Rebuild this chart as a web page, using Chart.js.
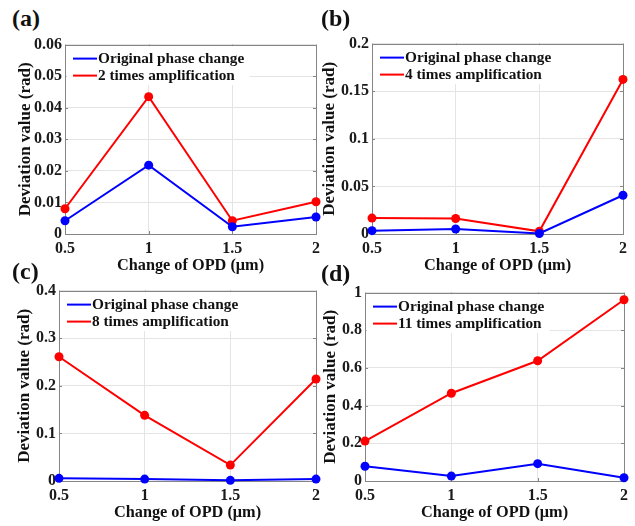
<!DOCTYPE html>
<html>
<head>
<meta charset="utf-8">
<title>Deviation value vs. change of OPD</title>
<script src="https://cdn.jsdelivr.net/npm/chart.js@4.4.1/dist/chart.umd.min.js"></script>
<style>
  body { margin: 0; background: #fff; }
  #figure { position: relative; width: 635px; height: 526px; overflow: hidden; background: #fff; }
  #figure canvas { position: absolute; }
  .panel-tag {
    position: absolute;
    font: bold 24px "Liberation Serif", "Times New Roman", serif;
    line-height: 1;
    color: #111;
  }
</style>
</head>
<body>
<div id="figure">
  <canvas id="chartA"></canvas>
  <canvas id="chartB"></canvas>
  <canvas id="chartC"></canvas>
  <canvas id="chartD"></canvas>
  <div class="panel-tag" style="left:12px;top:6px">(a)</div>
  <div class="panel-tag" style="left:321px;top:6px">(b)</div>
  <div class="panel-tag" style="left:12px;top:259px">(c)</div>
  <div class="panel-tag" style="left:321px;top:261px">(d)</div>
</div>

<script>
// 光路差の変化 (μm)
const opd = [0.5, 1, 1.5, 2];

// 各パネルの偏差 (rad)
const originalA = [0.0042, 0.0218, 0.0023, 0.0054];
const amplifiedA = [0.0080, 0.0435, 0.0042, 0.0102];
const originalB = [0.0035, 0.0052, 0.0005, 0.0407];
const amplifiedB = [0.0167, 0.0163, 0.0028, 0.1624];
const originalC = [0.0056, 0.0040, 0.0014, 0.0040];
const amplifiedC = [0.261, 0.138, 0.0334, 0.2143];
const originalD = [0.078, 0.026, 0.092, 0.017];
const amplifiedD = [0.212, 0.466, 0.638, 0.962];

// 凡例ラベル
const originalLabel = 'Original phase change';
const amplifiedLabels = ['2 times amplification', '4 times amplification', '8 times amplification', '11 times amplification'];

// y軸の上限と目盛間隔
const yMaxes = [0.06, 0.2, 0.4, 1];
const ySteps = [0.01, 0.05, 0.1, 0.2];

const xTitle = 'Change of OPD (\u03bcm)';
const yTitle = 'Deviation value (rad)';

const SERIF = '"Liberation Serif", "Times New Roman", serif';
const AXIS_W = 58;   // y軸の幅
const AXIS_H = 44;   // x軸の高さ
const PAD_TOP = 12;
const PAD_RIGHT = 10;

// プロット領域の配置 (ページ座標)
const panels = [
  { id: 'chartA', l: 65,  t: 44,  r: 316, b: 234, titleX: 26,  original: originalA, amplified: amplifiedA },
  { id: 'chartB', l: 372, t: 43,  r: 623, b: 234, titleX: 330, original: originalB, amplified: amplifiedB },
  { id: 'chartC', l: 59,  t: 290, r: 316, b: 481, titleX: 25,  original: originalC, amplified: amplifiedC },
  { id: 'chartD', l: 365, t: 292, r: 624, b: 481, titleX: 331, original: originalD, amplified: amplifiedD }
];

function toPoints(values) {
  return opd.map((x, i) => ({ x: x, y: values[i] }));
}

// 0.20 → 0.2, 2.0 → 2 のように末尾のゼロを落とす
function plainTick(value) {
  return String(+Number(value).toFixed(4));
}

// 枠線・内向き目盛・凡例を描くプラグイン
const matlabFrame = {
  id: 'matlabFrame',
  beforeDatasetsDraw(chart) {
    const { ctx, chartArea: { left, top, right, bottom } } = chart;
    const xs = chart.scales.x, ys = chart.scales.y;
    ctx.save();
    ctx.strokeStyle = '#858585';
    ctx.lineWidth = 1;
    ctx.strokeRect(Math.round(left) + 0.5, Math.round(top) + 0.5, Math.round(right - left), Math.round(bottom - top));
    ctx.beginPath();
    xs.ticks.forEach(tk => {
      const px = Math.round(xs.getPixelForValue(tk.value)) + 0.5;
      ctx.moveTo(px, bottom); ctx.lineTo(px, bottom - 3);
      ctx.moveTo(px, top); ctx.lineTo(px, top + 3);
    });
    ys.ticks.forEach(tk => {
      const py = Math.round(ys.getPixelForValue(tk.value)) + 0.5;
      ctx.moveTo(left, py); ctx.lineTo(left + 3, py);
      ctx.moveTo(right, py); ctx.lineTo(right - 3, py);
    });
    ctx.stroke();
    ctx.restore();
  },
  afterDatasetsDraw(chart) {
    const { ctx, chartArea: { left, top } } = chart;
    const datasets = chart.data.datasets;
    ctx.save();
    ctx.font = 'bold 15.3px ' + SERIF;
    ctx.textBaseline = 'middle';

    // 凡例の白い下地 (枠なし)
    const textW = Math.max(...datasets.map(ds => ctx.measureText(ds.label).width));
    ctx.fillStyle = '#fff';
    ctx.fillRect(left + 1.5, top + 1.5, 33 + textW + 4, 39);

    datasets.forEach((ds, i) => {
      const y = top + 14 + i * 17;
      ctx.strokeStyle = ds.borderColor;
      ctx.lineWidth = 2;
      ctx.beginPath();
      ctx.moveTo(left + 8, y);
      ctx.lineTo(left + 32, y);
      ctx.stroke();
      ctx.fillStyle = '#111';
      ctx.fillText(ds.label, left + 33, y);
    });
    ctx.restore();
  }
};

panels.forEach((p, i) => {
  const canvas = document.getElementById(p.id);
  const w = AXIS_W + (p.r - p.l) + PAD_RIGHT;
  const h = PAD_TOP + (p.b - p.t) + AXIS_H;
  canvas.width = w;
  canvas.height = h;
  canvas.style.left = (p.l - AXIS_W) + 'px';
  canvas.style.top = (p.t - PAD_TOP) + 'px';
  canvas.style.width = w + 'px';
  canvas.style.height = h + 'px';

  // y軸タイトルの中心位置を合わせる
  const yTitlePad = p.titleX - (p.l - AXIS_W) - 17 * 1.2 / 2;

  new Chart(canvas, {
    type: 'line',
    data: {
      datasets: [
        {
          label: originalLabel,
          data: toPoints(p.original),
          borderColor: '#0000ff',
          backgroundColor: '#0000ff',
          borderWidth: 2,
          pointRadius: 4.5,
          pointBorderWidth: 0,
          pointBackgroundColor: '#0000ff',
          tension: 0,
          clip: false
        },
        {
          label: amplifiedLabels[i],
          data: toPoints(p.amplified),
          borderColor: '#ff0000',
          backgroundColor: '#ff0000',
          borderWidth: 2,
          pointRadius: 4.5,
          pointBorderWidth: 0,
          pointBackgroundColor: '#ff0000',
          tension: 0,
          clip: false
        }
      ]
    },
    options: {
      responsive: false,
      animation: false,
      devicePixelRatio: 1,
      layout: { padding: { left: 0, top: PAD_TOP, right: PAD_RIGHT, bottom: 0 } },
      plugins: {
        legend: { display: false },
        tooltip: { enabled: false }
      },
      scales: {
        x: {
          type: 'linear',
          min: 0.5,
          max: 2,
          afterFit: scale => { scale.height = AXIS_H; },
          border: { display: false },
          grid: { color: '#e4e4e4', drawTicks: false },
          ticks: {
            stepSize: 0.5,
            padding: 5,
            color: '#1a1a1a',
            callback: plainTick,
            font: { family: SERIF, size: 16, weight: 'bold' }
          },
          title: {
            display: true,
            text: xTitle,
            color: '#111',
            padding: { top: 0, bottom: 2 },
            font: { family: SERIF, size: 16.3, weight: 'bold' }
          }
        },
        y: {
          min: 0,
          max: yMaxes[i],
          afterFit: scale => { scale.width = AXIS_W; },
          border: { display: false },
          grid: { color: '#e4e4e4', drawTicks: false },
          ticks: {
            stepSize: ySteps[i],
            padding: 3,
            color: '#1a1a1a',
            callback: plainTick,
            font: { family: SERIF, size: 16, weight: 'bold' }
          },
          title: {
            display: true,
            text: yTitle,
            color: '#111',
            padding: { top: yTitlePad, bottom: 0 },
            font: { family: SERIF, size: 17, weight: 'bold' }
          }
        }
      }
    },
    plugins: [matlabFrame]
  });
});
</script>
</body>
</html>
